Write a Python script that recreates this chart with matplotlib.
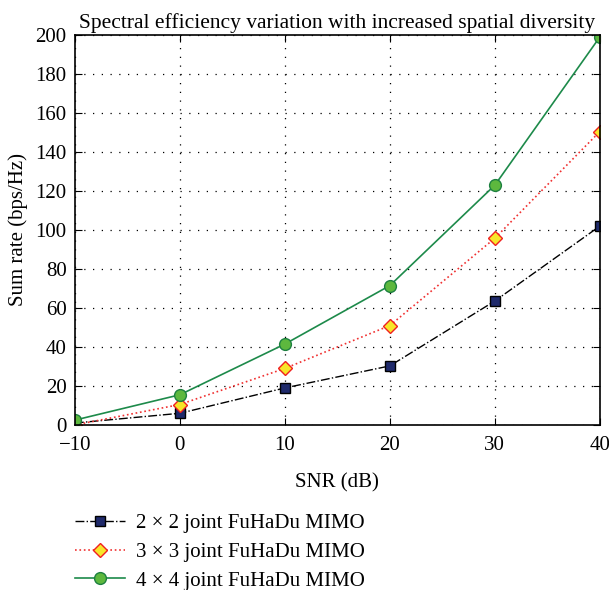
import matplotlib.pyplot as plt
import numpy as np

plt.rcParams['font.family'] = ['Liberation Serif', 'DejaVu Serif']

# data
snr = [-10, 0, 10, 20, 30, 40]
rate_2x2 = [1.0, 6.0, 19.0, 30.3, 63.6, 102.0]
rate_3x3 = [0.0, 10.5, 29.0, 51.0, 95.8, 150.5]
rate_4x4 = [2.5, 15.5, 41.5, 71.5, 123.0, 199.0]
labels = ['2 \u00d7 2 joint FuHaDu MIMO',
          '3 \u00d7 3 joint FuHaDu MIMO',
          '4 \u00d7 4 joint FuHaDu MIMO']

fig = plt.figure(figsize=(6.09, 5.90), dpi=100)
ax = fig.add_axes([0.123, 0.2797, 0.862, 0.661])

ax.plot(snr, rate_2x2, linestyle='-.', color='black', lw=1,
        marker='s', markersize=7, markerfacecolor='#1f2a6b',
        markeredgecolor='black', label=labels[0])
ax.plot(snr, rate_3x3, linestyle=':', color='#f03030', lw=1.2,
        marker='D', markersize=7, markerfacecolor='#f7e62a',
        markeredgecolor='#f02020', label=labels[1])
ax.plot(snr, rate_4x4, linestyle='-', color='#1d8a4a', lw=1.2,
        marker='o', markersize=8.5, markerfacecolor='#5db83e',
        markeredgecolor='#1d8040', label=labels[2])

ax.set_xlim(-10, 40)
ax.set_ylim(0, 200)
ax.set_xticks(np.arange(-10, 41, 10))
ax.set_yticks(np.arange(0, 201, 20))
ax.set_xticklabels(['\u221210', '0', '10', '20', '30', '40'])
ax.tick_params(direction='in', top=True, right=True, labelsize=15, length=5)
ax.tick_params(axis='x', pad=8)
ax.tick_params(axis='y', pad=6)
ax.grid(True, linestyle=(0, (1, 6)), color='black', lw=0.9)
for s in ax.spines.values():
    s.set_linewidth(1.2)

ax.set_xlabel('SNR (dB)', fontsize=15, labelpad=13)
ax.set_ylabel('Sum rate (bps/Hz)', fontsize=15, labelpad=5)
ax.set_title('Spectral efficiency variation with increased spatial diversity',
             fontsize=15.5, pad=5)

ax.legend(loc='upper left', bbox_to_anchor=(-0.015, -0.205), frameon=False,
          fontsize=15, handlelength=2.4, handletextpad=0.5,
          labelspacing=0.45, borderaxespad=0)

fig.savefig('out.png', dpi=100)
